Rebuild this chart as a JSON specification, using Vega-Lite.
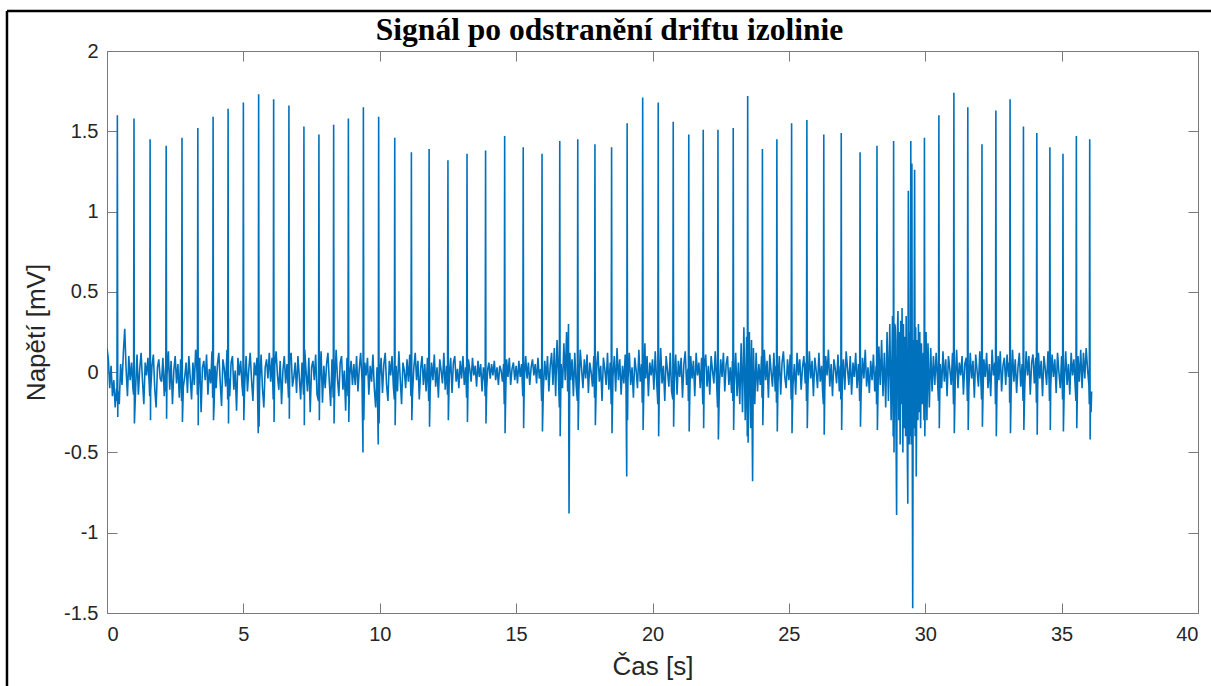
{
"$schema":"https://vega.github.io/schema/vega-lite/v6.json",
"width":1091,"height":562,
"autosize":{"type":"none"},
"padding":{"left":107,"top":51,"right":13,"bottom":73},
"background":"white",
"config":{"view":{"stroke":"#7a7a7a","strokeWidth":1},
"axis":{"grid":false,"domain":false,"tickColor":"#7a7a7a","tickSize":-10,"labelFont":"Liberation Sans","labelFontSize":20,"labelColor":"#262626","titleFont":"Liberation Sans","titleFontSize":26,"titleFontWeight":"normal","titleColor":"#262626"}},
"title":{"text":"Signál po odstranění driftu izolinie","font":"Liberation Serif","fontSize":31.5,"fontWeight":"bold","color":"#000000","anchor":"middle","frame":"group","dx":-43,"dy":30,"baseline":"alphabetic","offset":-32},
"layer":[
{"data":{"values":[
{"t":0,"v":0.15},{"t":0.05,"v":0.08},{"t":0.1,"v":-0.1},{"t":0.15,"v":0.04},{"t":0.2,"v":-0.15},{"t":0.25,"v":-0.05},{"t":0.3,"v":-0.22},{"t":0.35,"v":-0.1},{"t":0.365,"v":-0.18},{"t":0.38,"v":1.6},{"t":0.395,"v":-0.28},{"t":0.4,"v":-0.12},{"t":0.45,"v":-0.2},{"t":0.5,"v":0.05},{"t":0.55,"v":-0.08},{"t":0.6,"v":0.12},{"t":0.65,"v":0.27},{"t":0.7,"v":0.02},{"t":0.75,"v":-0.15},{"t":0.8,"v":0.1},{"t":0.85,"v":-0.05},{"t":0.9,"v":0.06},{"t":0.95,"v":-0.1},{"t":0.975,"v":-0.14},{"t":0.99,"v":1.58},
{"t":1,"v":0.04},{"t":1.005,"v":-0.32},{"t":1.05,"v":-0.1},{"t":1.1,"v":0.11},{"t":1.15,"v":-0.14},{"t":1.2,"v":0.02},{"t":1.25,"v":0.12},{"t":1.3,"v":-0.05},{"t":1.35,"v":-0.2},{"t":1.4,"v":0.06},{"t":1.45,"v":-0.02},{"t":1.5,"v":0.09},{"t":1.55,"v":-0.08},{"t":1.565,"v":-0.15},{"t":1.58,"v":1.45},{"t":1.595,"v":-0.3},{"t":1.6,"v":-0.12},{"t":1.65,"v":0.04},{"t":1.7,"v":0.11},{"t":1.75,"v":-0.1},{"t":1.8,"v":-0.22},{"t":1.85,"v":0.03},{"t":1.9,"v":0.08},{"t":1.95,"v":-0.04},
{"t":2,"v":-0.06},{"t":2.05,"v":0.09},{"t":2.1,"v":-0.15},{"t":2.15,"v":0.04},{"t":2.155,"v":-0.12},{"t":2.17,"v":1.41},{"t":2.185,"v":-0.29},{"t":2.2,"v":-0.02},{"t":2.25,"v":0.13},{"t":2.3,"v":-0.11},{"t":2.35,"v":0.07},{"t":2.4,"v":-0.2},{"t":2.45,"v":0.01},{"t":2.5,"v":0.1},{"t":2.55,"v":-0.07},{"t":2.6,"v":0.05},{"t":2.65,"v":-0.16},{"t":2.7,"v":0.08},{"t":2.735,"v":-0.18},{"t":2.75,"v":1.46},{"t":2.765,"v":-0.31},{"t":2.8,"v":-0.09},{"t":2.85,"v":-0.03},{"t":2.9,"v":0.06},{"t":2.95,"v":-0.13},
{"t":3,"v":0.1},{"t":3.05,"v":-0.03},{"t":3.1,"v":-0.17},{"t":3.15,"v":0.06},{"t":3.2,"v":-0.08},{"t":3.25,"v":0.14},{"t":3.3,"v":0},{"t":3.315,"v":-0.14},{"t":3.33,"v":1.52},{"t":3.345,"v":-0.33},{"t":3.35,"v":-0.12},{"t":3.4,"v":0.09},{"t":3.45,"v":-0.25},{"t":3.5,"v":0.03},{"t":3.55,"v":0.07},{"t":3.6,"v":-0.05},{"t":3.65,"v":0.11},{"t":3.7,"v":-0.14},{"t":3.75,"v":0.02},{"t":3.8,"v":-0.07},{"t":3.85,"v":0.13},{"t":3.875,"v":-0.16},{"t":3.89,"v":1.59},{"t":3.905,"v":-0.3},{"t":3.93,"v":-0.19},{"t":3.96,"v":0.04},
{"t":4,"v":-0.1},{"t":4.05,"v":0.05},{"t":4.1,"v":0.12},{"t":4.15,"v":-0.06},{"t":4.2,"v":-0.21},{"t":4.25,"v":0.08},{"t":4.3,"v":0.02},{"t":4.35,"v":-0.09},{"t":4.4,"v":0.14},{"t":4.425,"v":-0.17},{"t":4.44,"v":1.64},{"t":4.455,"v":-0.32},{"t":4.47,"v":-0.04},{"t":4.5,"v":-0.15},{"t":4.55,"v":0.06},{"t":4.6,"v":0.1},{"t":4.65,"v":-0.11},{"t":4.7,"v":0.01},{"t":4.75,"v":-0.24},{"t":4.8,"v":0.09},{"t":4.85,"v":-0.02},{"t":4.9,"v":0.07},{"t":4.95,"v":-0.08},{"t":4.985,"v":-0.15},
{"t":5,"v":1.68},{"t":5.015,"v":-0.3},{"t":5.05,"v":-0.08},{"t":5.1,"v":0.1},{"t":5.15,"v":-0.12},{"t":5.2,"v":0.02},{"t":5.25,"v":0.12},{"t":5.3,"v":-0.05},{"t":5.35,"v":-0.18},{"t":5.4,"v":0.06},{"t":5.45,"v":-0.02},{"t":5.5,"v":0.09},{"t":5.545,"v":-0.38},{"t":5.56,"v":1.73},{"t":5.575,"v":-0.34},{"t":5.6,"v":-0.06},{"t":5.65,"v":0.11},{"t":5.7,"v":-0.1},{"t":5.75,"v":-0.22},{"t":5.8,"v":0.03},{"t":5.85,"v":0.08},{"t":5.9,"v":-0.04},{"t":5.95,"v":0.12},
{"t":6,"v":-0.06},{"t":6.05,"v":0.09},{"t":6.095,"v":-0.17},{"t":6.11,"v":1.7},{"t":6.125,"v":-0.31},{"t":6.15,"v":0.04},{"t":6.2,"v":0.13},{"t":6.25,"v":-0.02},{"t":6.3,"v":-0.11},{"t":6.35,"v":0.07},{"t":6.4,"v":-0.2},{"t":6.45,"v":0.01},{"t":6.5,"v":0.1},{"t":6.55,"v":-0.07},{"t":6.6,"v":0.05},{"t":6.655,"v":-0.16},{"t":6.67,"v":1.66},{"t":6.685,"v":-0.29},{"t":6.7,"v":0.08},{"t":6.75,"v":0.12},{"t":6.8,"v":-0.09},{"t":6.85,"v":-0.03},{"t":6.9,"v":0.06},{"t":6.95,"v":-0.13},
{"t":7,"v":0.1},{"t":7.05,"v":-0.03},{"t":7.1,"v":-0.17},{"t":7.15,"v":0.06},{"t":7.205,"v":-0.14},{"t":7.22,"v":1.53},{"t":7.235,"v":-0.33},{"t":7.25,"v":0.14},{"t":7.3,"v":0},{"t":7.35,"v":-0.12},{"t":7.4,"v":0.09},{"t":7.45,"v":-0.25},{"t":7.5,"v":0.03},{"t":7.55,"v":0.07},{"t":7.6,"v":-0.05},{"t":7.65,"v":0.11},{"t":7.7,"v":-0.14},{"t":7.755,"v":-0.18},{"t":7.77,"v":1.48},{"t":7.785,"v":-0.3},{"t":7.8,"v":-0.07},{"t":7.85,"v":0.13},{"t":7.9,"v":-0.19},{"t":7.95,"v":0.04},
{"t":8,"v":-0.1},{"t":8.05,"v":0.05},{"t":8.1,"v":0.12},{"t":8.15,"v":-0.06},{"t":8.2,"v":-0.21},{"t":8.25,"v":0.08},{"t":8.295,"v":-0.16},{"t":8.31,"v":1.54},{"t":8.325,"v":-0.32},{"t":8.35,"v":-0.09},{"t":8.4,"v":0.14},{"t":8.45,"v":-0.04},{"t":8.5,"v":-0.15},{"t":8.55,"v":0.06},{"t":8.6,"v":0.1},{"t":8.65,"v":-0.11},{"t":8.7,"v":0.01},{"t":8.75,"v":-0.24},{"t":8.8,"v":0.09},{"t":8.835,"v":-0.15},{"t":8.85,"v":1.58},{"t":8.865,"v":-0.31},{"t":8.9,"v":-0.02},{"t":8.95,"v":0.07},
{"t":9,"v":-0.08},{"t":9.05,"v":0.05},{"t":9.1,"v":-0.08},{"t":9.15,"v":0.1},{"t":9.2,"v":-0.12},{"t":9.25,"v":0.02},{"t":9.3,"v":0.12},{"t":9.35,"v":-0.05},{"t":9.385,"v":-0.5},{"t":9.4,"v":1.65},{"t":9.415,"v":-0.3},{"t":9.45,"v":0.06},{"t":9.5,"v":-0.02},{"t":9.55,"v":0.09},{"t":9.6,"v":-0.14},{"t":9.65,"v":0.04},{"t":9.7,"v":-0.06},{"t":9.75,"v":0.11},{"t":9.8,"v":-0.1},{"t":9.85,"v":-0.22},{"t":9.9,"v":0.03},{"t":9.945,"v":-0.45},{"t":9.96,"v":1.59},{"t":9.975,"v":-0.32},
{"t":10,"v":-0.03},{"t":10.05,"v":0.09},{"t":10.1,"v":-0.13},{"t":10.15,"v":0.05},{"t":10.2,"v":0.12},{"t":10.25,"v":-0.08},{"t":10.3,"v":-0.18},{"t":10.35,"v":0.07},{"t":10.4,"v":-0.02},{"t":10.45,"v":0.1},{"t":10.5,"v":-0.09},{"t":10.535,"v":-0.17},{"t":10.55,"v":1.46},{"t":10.565,"v":-0.33},{"t":10.6,"v":0.04},{"t":10.65,"v":-0.12},{"t":10.7,"v":0.13},{"t":10.75,"v":-0.04},{"t":10.8,"v":-0.2},{"t":10.85,"v":0.06},{"t":10.9,"v":0.01},{"t":10.95,"v":-0.1},
{"t":11,"v":0.08},{"t":11.05,"v":-0.06},{"t":11.1,"v":0.11},{"t":11.145,"v":-0.15},{"t":11.16,"v":1.37},{"t":11.175,"v":-0.3},{"t":11.2,"v":-0.14},{"t":11.25,"v":0.03},{"t":11.3,"v":0.12},{"t":11.35,"v":-0.05},{"t":11.4,"v":0.07},{"t":11.45,"v":-0.17},{"t":11.5,"v":0.02},{"t":11.55,"v":0.1},{"t":11.6,"v":-0.08},{"t":11.65,"v":0.05},{"t":11.7,"v":-0.12},{"t":11.75,"v":0.09},{"t":11.795,"v":-0.18},{"t":11.81,"v":1.39},{"t":11.825,"v":-0.34},{"t":11.85,"v":-0.1},{"t":11.9,"v":0.06},{"t":11.95,"v":-0.05},
{"t":12,"v":0.11},{"t":12.05,"v":-0.09},{"t":12.1,"v":0.03},{"t":12.15,"v":-0.16},{"t":12.2,"v":0.08},{"t":12.25,"v":0.01},{"t":12.3,"v":-0.07},{"t":12.35,"v":0.12},{"t":12.4,"v":-0.11},{"t":12.45,"v":0.04},{"t":12.485,"v":-0.14},{"t":12.5,"v":1.32},{"t":12.515,"v":-0.3},{"t":12.55,"v":-0.02},{"t":12.6,"v":0.09},{"t":12.65,"v":-0.13},{"t":12.7,"v":0.06},{"t":12.75,"v":0.1},{"t":12.8,"v":-0.06},{"t":12.85,"v":0.02},{"t":12.9,"v":-0.1},{"t":12.95,"v":0.07},
{"t":13,"v":-0.04},{"t":13.05,"v":0.1},{"t":13.1,"v":-0.08},{"t":13.15,"v":0.03},{"t":13.185,"v":-0.16},{"t":13.2,"v":1.36},{"t":13.215,"v":-0.31},{"t":13.25,"v":0.08},{"t":13.3,"v":0.02},{"t":13.35,"v":-0.06},{"t":13.4,"v":0.09},{"t":13.45,"v":-0.02},{"t":13.5,"v":0.04},{"t":13.55,"v":-0.09},{"t":13.6,"v":0.07},{"t":13.65,"v":-0.03},{"t":13.7,"v":0.05},{"t":13.75,"v":-0.12},{"t":13.8,"v":0.03},{"t":13.85,"v":-0.06},{"t":13.865,"v":-0.15},{"t":13.88,"v":1.38},{"t":13.895,"v":-0.32},{"t":13.92,"v":-0.1},{"t":13.96,"v":0.02},
{"t":14,"v":0.06},{"t":14.05,"v":-0.04},{"t":14.1,"v":0.05},{"t":14.15,"v":-0.02},{"t":14.2,"v":0.07},{"t":14.25,"v":-0.05},{"t":14.3,"v":0.03},{"t":14.35,"v":-0.08},{"t":14.4,"v":0.04},{"t":14.45,"v":0.01},{"t":14.5,"v":-0.06},{"t":14.54,"v":0.05},{"t":14.565,"v":-0.2},{"t":14.58,"v":1.47},{"t":14.595,"v":-0.38},{"t":14.62,"v":-0.12},{"t":14.65,"v":0.08},{"t":14.7,"v":-0.03},{"t":14.75,"v":0.09},{"t":14.8,"v":-0.08},{"t":14.85,"v":0.02},{"t":14.9,"v":0.06},{"t":14.95,"v":-0.05},
{"t":15,"v":0.04},{"t":15.05,"v":-0.07},{"t":15.1,"v":0.07},{"t":15.15,"v":-0.03},{"t":15.2,"v":0.05},{"t":15.245,"v":-0.15},{"t":15.26,"v":1.4},{"t":15.275,"v":-0.35},{"t":15.3,"v":-0.05},{"t":15.35,"v":0.1},{"t":15.4,"v":-0.04},{"t":15.45,"v":0.06},{"t":15.5,"v":-0.08},{"t":15.55,"v":0.03},{"t":15.6,"v":0.08},{"t":15.65,"v":-0.02},{"t":15.7,"v":0.05},{"t":15.75,"v":-0.07},{"t":15.8,"v":0.09},{"t":15.85,"v":-0.04},{"t":15.9,"v":0.02},{"t":15.935,"v":-0.18},{"t":15.95,"v":1.36},{"t":15.965,"v":-0.37},
{"t":16,"v":-0.1},{"t":16.05,"v":0.07},{"t":16.1,"v":-0.05},{"t":16.15,"v":0.1},{"t":16.2,"v":-0.12},{"t":16.25,"v":0.04},{"t":16.3,"v":0.12},{"t":16.35,"v":-0.08},{"t":16.4,"v":0.15},{"t":16.45,"v":-0.15},{"t":16.5,"v":0.2},{"t":16.55,"v":-0.02},{"t":16.585,"v":-0.22},{"t":16.6,"v":1.44},{"t":16.615,"v":-0.4},{"t":16.65,"v":0.05},{"t":16.7,"v":-0.1},{"t":16.75,"v":0.18},{"t":16.8,"v":-0.05},{"t":16.85,"v":0.25},{"t":16.89,"v":-0.12},{"t":16.92,"v":0.3},{"t":16.94,"v":-0.88},{"t":16.97,"v":0.12},
{"t":17,"v":-0.05},{"t":17.05,"v":0.08},{"t":17.1,"v":-0.15},{"t":17.15,"v":0.12},{"t":17.2,"v":-0.08},{"t":17.245,"v":-0.18},{"t":17.26,"v":1.45},{"t":17.275,"v":-0.36},{"t":17.3,"v":-0.12},{"t":17.35,"v":0.14},{"t":17.4,"v":0.02},{"t":17.45,"v":-0.1},{"t":17.5,"v":0.08},{"t":17.55,"v":-0.04},{"t":17.6,"v":0.11},{"t":17.65,"v":-0.13},{"t":17.7,"v":0.06},{"t":17.75,"v":0},{"t":17.8,"v":-0.09},{"t":17.85,"v":0.1},{"t":17.875,"v":-0.16},{"t":17.89,"v":1.42},{"t":17.905,"v":-0.33},{"t":17.93,"v":-0.14},{"t":17.96,"v":0.05},
{"t":18,"v":0.13},{"t":18.05,"v":-0.06},{"t":18.1,"v":0.04},{"t":18.15,"v":-0.18},{"t":18.2,"v":0.09},{"t":18.25,"v":0.02},{"t":18.3,"v":-0.08},{"t":18.35,"v":0.12},{"t":18.4,"v":-0.11},{"t":18.45,"v":0.06},{"t":18.485,"v":-0.2},{"t":18.5,"v":1.4},{"t":18.515,"v":-0.38},{"t":18.55,"v":-0.03},{"t":18.6,"v":0.1},{"t":18.65,"v":-0.12},{"t":18.7,"v":0.15},{"t":18.75,"v":-0.05},{"t":18.8,"v":0.08},{"t":18.85,"v":-0.14},{"t":18.9,"v":0.04},{"t":18.95,"v":-0.07},
{"t":19,"v":0.11},{"t":19.03,"v":-0.1},{"t":19.055,"v":-0.65},{"t":19.07,"v":1.55},{"t":19.085,"v":-0.3},{"t":19.1,"v":-0.05},{"t":19.15,"v":0.12},{"t":19.2,"v":-0.08},{"t":19.25,"v":0.03},{"t":19.3,"v":-0.16},{"t":19.35,"v":0.09},{"t":19.4,"v":0.01},{"t":19.45,"v":-0.1},{"t":19.5,"v":0.14},{"t":19.55,"v":-0.06},{"t":19.6,"v":0.05},{"t":19.625,"v":-0.19},{"t":19.64,"v":1.71},{"t":19.655,"v":-0.36},{"t":19.68,"v":-0.13},{"t":19.72,"v":0.18},{"t":19.75,"v":-0.04},{"t":19.8,"v":0.1},{"t":19.85,"v":-0.15},{"t":19.9,"v":0.06},{"t":19.95,"v":-0.02},
{"t":20,"v":0.08},{"t":20.05,"v":-0.11},{"t":20.1,"v":0.13},{"t":20.15,"v":-0.05},{"t":20.195,"v":-0.2},{"t":20.21,"v":1.68},{"t":20.225,"v":-0.4},{"t":20.25,"v":-0.1},{"t":20.3,"v":0.15},{"t":20.35,"v":-0.07},{"t":20.4,"v":0.04},{"t":20.45,"v":-0.18},{"t":20.5,"v":0.1},{"t":20.55,"v":0.01},{"t":20.6,"v":-0.09},{"t":20.65,"v":0.12},{"t":20.7,"v":-0.12},{"t":20.745,"v":-0.17},{"t":20.76,"v":1.56},{"t":20.775,"v":-0.34},{"t":20.8,"v":-0.06},{"t":20.85,"v":0.11},{"t":20.9,"v":-0.14},{"t":20.95,"v":0.07},
{"t":21,"v":-0.03},{"t":21.05,"v":0.09},{"t":21.1,"v":-0.16},{"t":21.15,"v":0.05},{"t":21.2,"v":0.13},{"t":21.25,"v":-0.08},{"t":21.3,"v":0.02},{"t":21.315,"v":-0.18},{"t":21.33,"v":1.48},{"t":21.345,"v":-0.37},{"t":21.37,"v":-0.12},{"t":21.4,"v":0.1},{"t":21.45,"v":-0.04},{"t":21.5,"v":0.07},{"t":21.55,"v":-0.15},{"t":21.6,"v":0.12},{"t":21.65,"v":-0.02},{"t":21.7,"v":0.06},{"t":21.75,"v":-0.1},{"t":21.8,"v":0.09},{"t":21.845,"v":-0.2},{"t":21.86,"v":1.51},{"t":21.875,"v":-0.35},{"t":21.9,"v":0.03},{"t":21.95,"v":0.11},
{"t":22,"v":-0.09},{"t":22.05,"v":0.04},{"t":22.1,"v":-0.14},{"t":22.15,"v":0.1},{"t":22.2,"v":0.01},{"t":22.25,"v":-0.07},{"t":22.3,"v":0.13},{"t":22.35,"v":-0.06},{"t":22.385,"v":-0.22},{"t":22.4,"v":1.51},{"t":22.415,"v":-0.42},{"t":22.45,"v":-0.1},{"t":22.5,"v":0.08},{"t":22.55,"v":-0.03},{"t":22.6,"v":0.12},{"t":22.65,"v":-0.12},{"t":22.7,"v":0.05},{"t":22.75,"v":0.1},{"t":22.8,"v":-0.08},{"t":22.85,"v":0.03},{"t":22.9,"v":-0.13},{"t":22.93,"v":0.07},{"t":22.945,"v":-0.18},{"t":22.96,"v":1.52},{"t":22.975,"v":-0.36},
{"t":23,"v":-0.08},{"t":23.05,"v":0.12},{"t":23.1,"v":-0.15},{"t":23.15,"v":0.06},{"t":23.2,"v":-0.2},{"t":23.25,"v":0.18},{"t":23.3,"v":-0.25},{"t":23.35,"v":0.28},{"t":23.4,"v":-0.3},{"t":23.45,"v":0.22},{"t":23.475,"v":-0.4},{"t":23.49,"v":1.72},{"t":23.505,"v":-0.44},{"t":23.55,"v":0.25},{"t":23.6,"v":-0.35},{"t":23.63,"v":0.2},{"t":23.67,"v":-0.68},{"t":23.7,"v":0.15},{"t":23.75,"v":-0.2},{"t":23.8,"v":0.12},{"t":23.85,"v":-0.12},{"t":23.9,"v":0.05},{"t":23.95,"v":-0.08},
{"t":24,"v":0.1},{"t":24.015,"v":-0.16},{"t":24.03,"v":1.39},{"t":24.045,"v":-0.33},{"t":24.07,"v":-0.1},{"t":24.1,"v":0.14},{"t":24.15,"v":-0.05},{"t":24.2,"v":0.07},{"t":24.25,"v":-0.16},{"t":24.3,"v":0.11},{"t":24.35,"v":0},{"t":24.4,"v":-0.09},{"t":24.45,"v":0.12},{"t":24.5,"v":-0.12},{"t":24.53,"v":0.04},{"t":24.545,"v":-0.19},{"t":24.56,"v":1.45},{"t":24.575,"v":-0.37},{"t":24.6,"v":-0.07},{"t":24.65,"v":0.1},{"t":24.7,"v":-0.14},{"t":24.75,"v":0.06},{"t":24.8,"v":0.13},{"t":24.85,"v":-0.03},{"t":24.9,"v":-0.1},{"t":24.95,"v":0.08},
{"t":25,"v":-0.05},{"t":25.05,"v":0.11},{"t":25.085,"v":-0.17},{"t":25.1,"v":1.55},{"t":25.115,"v":-0.38},{"t":25.15,"v":-0.08},{"t":25.2,"v":0.05},{"t":25.25,"v":-0.14},{"t":25.3,"v":0.12},{"t":25.35,"v":-0.02},{"t":25.4,"v":0.08},{"t":25.45,"v":-0.11},{"t":25.5,"v":0.03},{"t":25.55,"v":0.1},{"t":25.6,"v":-0.07},{"t":25.63,"v":0.06},{"t":25.645,"v":-0.18},{"t":25.66,"v":1.57},{"t":25.675,"v":-0.35},{"t":25.7,"v":-0.09},{"t":25.75,"v":0.13},{"t":25.8,"v":-0.04},{"t":25.85,"v":0.07},{"t":25.9,"v":-0.15},{"t":25.95,"v":0.09},
{"t":26,"v":0.01},{"t":26.05,"v":-0.1},{"t":26.1,"v":0.12},{"t":26.15,"v":-0.06},{"t":26.2,"v":0.04},{"t":26.24,"v":-0.13},{"t":26.265,"v":-0.2},{"t":26.28,"v":1.48},{"t":26.295,"v":-0.39},{"t":26.32,"v":-0.08},{"t":26.35,"v":0.1},{"t":26.4,"v":-0.02},{"t":26.45,"v":0.14},{"t":26.5,"v":-0.09},{"t":26.55,"v":0.05},{"t":26.6,"v":-0.15},{"t":26.65,"v":0.08},{"t":26.7,"v":0.02},{"t":26.75,"v":-0.07},{"t":26.8,"v":0.11},{"t":26.85,"v":-0.12},{"t":26.89,"v":0.04},{"t":26.905,"v":-0.17},{"t":26.92,"v":1.49},{"t":26.935,"v":-0.36},{"t":26.96,"v":-0.05},
{"t":27,"v":0.08},{"t":27.05,"v":-0.11},{"t":27.1,"v":0.13},{"t":27.15,"v":0.02},{"t":27.2,"v":-0.08},{"t":27.25,"v":0.1},{"t":27.3,"v":-0.14},{"t":27.35,"v":0.06},{"t":27.4,"v":-0.03},{"t":27.45,"v":0.12},{"t":27.5,"v":-0.1},{"t":27.55,"v":0.05},{"t":27.58,"v":-0.06},{"t":27.595,"v":-0.18},{"t":27.61,"v":1.37},{"t":27.625,"v":-0.34},{"t":27.65,"v":-0.12},{"t":27.7,"v":0.09},{"t":27.75,"v":-0.04},{"t":27.8,"v":0.14},{"t":27.85,"v":-0.09},{"t":27.9,"v":0.03},{"t":27.95,"v":-0.13},
{"t":28,"v":0.07},{"t":28.05,"v":-0.05},{"t":28.1,"v":0.11},{"t":28.15,"v":-0.12},{"t":28.2,"v":0.04},{"t":28.215,"v":-0.2},{"t":28.23,"v":1.41},{"t":28.245,"v":-0.36},{"t":28.27,"v":-0.1},{"t":28.3,"v":0.16},{"t":28.35,"v":-0.08},{"t":28.4,"v":0.2},{"t":28.45,"v":-0.15},{"t":28.5,"v":0.12},{"t":28.55,"v":-0.22},{"t":28.6,"v":0.25},{"t":28.65,"v":-0.18},{"t":28.7,"v":0.3},{"t":28.75,"v":-0.3},{"t":28.8,"v":0.35},{"t":28.825,"v":-0.4},{"t":28.84,"v":1.44},{"t":28.855,"v":-0.5},{"t":28.88,"v":0.3},{"t":28.9,"v":0.28},{"t":28.93,"v":-0.4},{"t":28.95,"v":-0.89},{"t":28.97,"v":0.2},
{"t":29,"v":0.38},{"t":29.03,"v":-0.3},{"t":29.05,"v":0.25},{"t":29.08,"v":-0.45},{"t":29.1,"v":0.32},{"t":29.13,"v":-0.2},{"t":29.15,"v":0.4},{"t":29.18,"v":-0.5},{"t":29.2,"v":0.3},{"t":29.23,"v":-0.35},{"t":29.25,"v":0.22},{"t":29.28,"v":-0.4},{"t":29.3,"v":0.35},{"t":29.33,"v":-0.25},{"t":29.36,"v":-0.82},{"t":29.38,"v":1.13},{"t":29.41,"v":-0.45},{"t":29.44,"v":0.25},{"t":29.455,"v":-0.4},{"t":29.47,"v":1.44},{"t":29.485,"v":-0.45},{"t":29.5,"v":0.3},{"t":29.51,"v":1.3},{"t":29.525,"v":-0.5},{"t":29.54,"v":-1.47},{"t":29.56,"v":0.2},{"t":29.58,"v":-0.35},{"t":29.61,"v":1.26},{"t":29.63,"v":-0.4},{"t":29.65,"v":0.28},{"t":29.67,"v":-0.65},{"t":29.7,"v":0.2},{"t":29.73,"v":-0.3},{"t":29.75,"v":0.3},{"t":29.78,"v":-0.25},{"t":29.8,"v":0.25},{"t":29.83,"v":-0.35},{"t":29.86,"v":0.18},{"t":29.9,"v":-0.2},{"t":29.93,"v":0.12},{"t":29.955,"v":-0.3},{"t":29.97,"v":1.46},{"t":29.985,"v":-0.4},
{"t":30,"v":-0.15},{"t":30.03,"v":0.25},{"t":30.06,"v":-0.3},{"t":30.1,"v":0.18},{"t":30.15,"v":-0.22},{"t":30.2,"v":0.15},{"t":30.25,"v":-0.12},{"t":30.3,"v":0.1},{"t":30.35,"v":-0.08},{"t":30.4,"v":0.12},{"t":30.45,"v":-0.05},{"t":30.485,"v":-0.18},{"t":30.5,"v":1.6},{"t":30.515,"v":-0.35},{"t":30.55,"v":0.05},{"t":30.6,"v":-0.1},{"t":30.65,"v":0.13},{"t":30.7,"v":-0.06},{"t":30.75,"v":0.08},{"t":30.8,"v":-0.15},{"t":30.85,"v":0.1},{"t":30.9,"v":0.02},{"t":30.95,"v":-0.08},
{"t":31,"v":0.12},{"t":31.035,"v":-0.2},{"t":31.05,"v":1.74},{"t":31.065,"v":-0.38},{"t":31.1,"v":-0.05},{"t":31.15,"v":0.14},{"t":31.2,"v":-0.1},{"t":31.25,"v":0.06},{"t":31.3,"v":-0.02},{"t":31.35,"v":0.1},{"t":31.4,"v":-0.14},{"t":31.45,"v":0.05},{"t":31.5,"v":0.09},{"t":31.53,"v":-0.07},{"t":31.545,"v":-0.18},{"t":31.56,"v":1.65},{"t":31.575,"v":-0.36},{"t":31.6,"v":-0.1},{"t":31.65,"v":0.12},{"t":31.7,"v":-0.04},{"t":31.75,"v":0.07},{"t":31.8,"v":-0.16},{"t":31.85,"v":0.11},{"t":31.9,"v":0.01},{"t":31.95,"v":-0.09},
{"t":32,"v":0.13},{"t":32.04,"v":-0.06},{"t":32.065,"v":-0.17},{"t":32.08,"v":1.42},{"t":32.095,"v":-0.34},{"t":32.12,"v":-0.12},{"t":32.15,"v":0.08},{"t":32.2,"v":-0.03},{"t":32.25,"v":0.12},{"t":32.3,"v":-0.1},{"t":32.35,"v":0.05},{"t":32.4,"v":-0.15},{"t":32.45,"v":0.14},{"t":32.5,"v":-0.02},{"t":32.55,"v":0.06},{"t":32.575,"v":-0.2},{"t":32.59,"v":1.63},{"t":32.605,"v":-0.4},{"t":32.63,"v":-0.1},{"t":32.67,"v":0.1},{"t":32.7,"v":-0.05},{"t":32.75,"v":0.13},{"t":32.8,"v":-0.12},{"t":32.85,"v":0.04},{"t":32.9,"v":0.09},{"t":32.95,"v":-0.08},
{"t":33,"v":0.11},{"t":33.05,"v":-0.03},{"t":33.08,"v":0.06},{"t":33.095,"v":-0.19},{"t":33.11,"v":1.7},{"t":33.125,"v":-0.38},{"t":33.15,"v":-0.11},{"t":33.2,"v":0.14},{"t":33.25,"v":-0.06},{"t":33.3,"v":0.08},{"t":33.35,"v":-0.13},{"t":33.4,"v":0.03},{"t":33.45,"v":0.12},{"t":33.5,"v":-0.09},{"t":33.55,"v":0.05},{"t":33.585,"v":-0.18},{"t":33.6,"v":1.53},{"t":33.615,"v":-0.36},{"t":33.65,"v":-0.08},{"t":33.7,"v":0.13},{"t":33.75,"v":-0.02},{"t":33.8,"v":0.1},{"t":33.85,"v":-0.14},{"t":33.9,"v":0.06},{"t":33.95,"v":0.11},
{"t":34,"v":-0.07},{"t":34.05,"v":0.09},{"t":34.075,"v":-0.19},{"t":34.09,"v":1.49},{"t":34.105,"v":-0.39},{"t":34.12,"v":-0.12},{"t":34.15,"v":0.12},{"t":34.2,"v":-0.04},{"t":34.25,"v":0.07},{"t":34.3,"v":-0.15},{"t":34.35,"v":0.1},{"t":34.4,"v":0.02},{"t":34.45,"v":-0.08},{"t":34.5,"v":0.13},{"t":34.54,"v":-0.05},{"t":34.555,"v":-0.18},{"t":34.57,"v":1.4},{"t":34.585,"v":-0.36},{"t":34.6,"v":-0.09},{"t":34.65,"v":0.11},{"t":34.7,"v":-0.03},{"t":34.75,"v":0.08},{"t":34.8,"v":-0.13},{"t":34.85,"v":0.12},{"t":34.9,"v":0},{"t":34.95,"v":-0.1},
{"t":35,"v":0.1},{"t":35.035,"v":-0.17},{"t":35.05,"v":1.36},{"t":35.065,"v":-0.37},{"t":35.1,"v":-0.06},{"t":35.15,"v":0.13},{"t":35.2,"v":-0.08},{"t":35.25,"v":0.05},{"t":35.3,"v":-0.14},{"t":35.35,"v":0.12},{"t":35.4,"v":-0.02},{"t":35.45,"v":0.08},{"t":35.5,"v":-0.1},{"t":35.525,"v":-0.18},{"t":35.54,"v":1.47},{"t":35.555,"v":-0.35},{"t":35.6,"v":0.1},{"t":35.65,"v":-0.06},{"t":35.7,"v":0.14},{"t":35.75,"v":-0.1},{"t":35.8,"v":0.12},{"t":35.85,"v":-0.04},{"t":35.9,"v":0.15},{"t":35.95,"v":0.02},
{"t":36,"v":-0.08},{"t":36.015,"v":-0.2},{"t":36.03,"v":1.45},{"t":36.045,"v":-0.42},{"t":36.06,"v":-0.15},{"t":36.08,"v":-0.25},{"t":36.1,"v":-0.12}
]},
"mark":{"type":"line","color":"#0072BD","strokeWidth":1.6,"clip":true},
"encoding":{
"x":{"field":"t","type":"quantitative","scale":{"domain":[0,40],"nice":false},"axis":{"orient":"bottom","values":[0,5,10,15,20,25,30,35,40],"labelExpr":"datum.value + ''","labelPadding":21,"title":"Čas [s]","titlePadding":9}},
"y":{"field":"v","type":"quantitative","scale":{"domain":[-1.5,2],"nice":false,"zero":false},"axis":{"orient":"left","values":[-1.5,-1,-0.5,0,0.5,1,1.5,2],"labelExpr":"datum.value + ''","labelPadding":19,"title":"Napětí [mV]","titlePadding":14}}
}},
{"data":{"values":[{"edge":"left"}]},
"mark":{"type":"rule","color":"#000000","strokeWidth":2.5,"clip":false},
"encoding":{"x":{"datum":-3.667,"type":"quantitative","axis":{"orient":"top","values":[0,5,10,15,20,25,30,35,40],"labels":false,"title":null}},"y":{"datum":2.249,"type":"quantitative","axis":{"orient":"right","values":[-1.5,-1,-0.5,0,0.5,1,1.5,2],"labels":false,"title":null}},"y2":{"datum":-2.5}}},
{"data":{"values":[{"edge":"top"}]},
"mark":{"type":"rule","color":"#000000","strokeWidth":2.5,"clip":false},
"encoding":{"x":{"datum":-3.667,"type":"quantitative","axis":null},"x2":{"datum":45},"y":{"datum":2.249,"type":"quantitative","axis":null}}}
]
}
